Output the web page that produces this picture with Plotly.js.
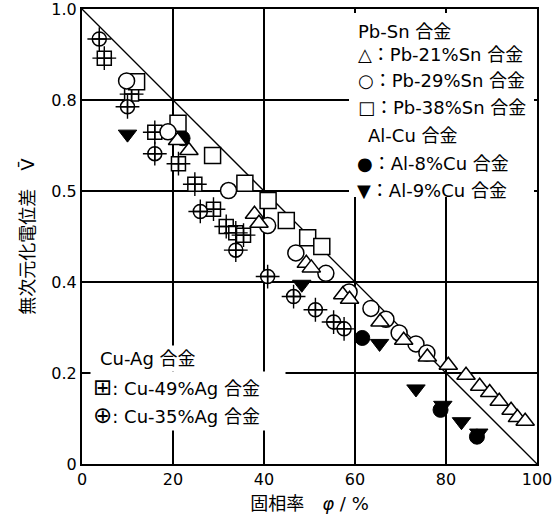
<!DOCTYPE html>
<html>
<head>
<meta charset="utf-8">
<script src="https://cdn.plot.ly/plotly-3.0.1.min.js"></script>
<style>html,body{margin:0;padding:0;background:#fff;}#chart{width:552px;height:515px;}</style>
</head>
<body>
<div id="chart"></div>
<script>
// ---- data (solid fraction phi %, dimensionless potential difference V) ----
const idealX = [0, 100];
const idealY = [1, 0];

const pb21X = [21.0, 23.5, 37.9, 38.9, 49.3, 50.4, 57.3, 58.8, 65.5, 70.7, 75.9, 80.5, 84.4, 87.4, 89.6, 91.7, 94.3, 95.7, 97.4];
const pb21Y = [0.711, 0.689, 0.549, 0.529, 0.441, 0.431, 0.372, 0.362, 0.312, 0.272, 0.235, 0.217, 0.195, 0.171, 0.157, 0.138, 0.118, 0.102, 0.094];

const pb29X = [9.8, 18.9, 32.2, 40.8, 47.0, 53.6, 58.7, 63.5, 66.8, 69.7, 73.4, 75.8];
const pb29Y = [0.842, 0.730, 0.601, 0.524, 0.464, 0.419, 0.378, 0.342, 0.318, 0.288, 0.264, 0.244];

const pb38X = [12.0, 21.1, 28.7, 35.8, 40.9, 44.9, 49.6, 52.7];
const pb38Y = [0.840, 0.749, 0.678, 0.617, 0.579, 0.535, 0.497, 0.478];

const al8X = [22.1, 61.6, 78.8, 86.8];
const al8Y = [0.716, 0.277, 0.119, 0.060];

const al9X = [10.0, 48.3, 65.4, 73.4, 79.3, 83.4, 87.2];
const al9Y = [0.725, 0.395, 0.265, 0.165, 0.129, 0.093, 0.068];

const cu49X = [4.9, 10.9, 16.0, 21.2, 24.8, 28.9, 31.7, 33.8, 35.5];
const cu49Y = [0.892, 0.813, 0.729, 0.660, 0.615, 0.560, 0.522, 0.508, 0.503];

const cu35X = [3.8, 10.0, 16.0, 26.0, 33.8, 40.8, 46.5, 51.3, 55.3, 57.6];
const cu35Y = [0.934, 0.785, 0.682, 0.555, 0.470, 0.412, 0.368, 0.339, 0.312, 0.297];

const xTickVals = [0, 20, 40, 60, 80, 100];
const xTickText = ['0', '20', '40', '60', '80', '100'];
const yTickVals = [0, 0.2, 0.4, 0.6, 0.8, 1.0];
const yTickText = ['0', '0.2', '0.4', '0.5', '0.8', '1.0'];

const legendPbSn = ['Pb-Sn 合金', '△：Pb-21%Sn 合金', '○：Pb-29%Sn 合金', '□：Pb-38%Sn 合金'];
const legendAlCu = ['Al-Cu 合金', '●：Al-8%Cu 合金', '▼：Al-9%Cu 合金'];
const legendCuAg = ['Cu-Ag 合金', '<span style="font-size:23px">⊞</span>: Cu-49%Ag 合金', '<span style="font-size:23px">⊕</span>: Cu-35%Ag 合金'];

// ---- styling ----
const FONT = 'DejaVu Sans, Noto Sans CJK JP, sans-serif';
const W = 552, H = 515;
const M = {l: 82, r: 15, t: 9, b: 51};
const PW = W - M.l - M.r, PH = H - M.t - M.b;
const px = x => (x - M.l) / PW;          // pixel -> paper
const py = y => (H - M.b - y) / PH;

function openMarker(sym, size) {
  return {symbol: sym, size: size, color: '#fff', line: {color: '#000', width: 1.5}};
}
function filledMarker(sym, size) {
  return {symbol: sym, size: size, color: '#000', line: {color: '#000', width: 1}};
}
const armMarker = {symbol: 'cross-thin-open', size: 17, color: '#000', line: {color: '#000', width: 1.4}};

const traces = [
  {x: idealX, y: idealY, mode: 'lines', line: {color: '#000', width: 1.3}, hoverinfo: 'skip'},
  {x: al8X, y: al8Y, mode: 'markers', marker: filledMarker('circle', 15)},
  {x: al9X, y: al9Y, mode: 'markers', marker: filledMarker('triangle-down', 16)},
  {x: cu49X, y: cu49Y, mode: 'markers', marker: openMarker('square-cross', 14)},
  {x: cu49X, y: cu49Y, mode: 'markers', marker: armMarker},
  {x: cu35X, y: cu35Y, mode: 'markers', marker: openMarker('circle-cross', 14)},
  {x: cu35X, y: cu35Y, mode: 'markers', marker: armMarker},
  {x: pb38X, y: pb38Y, mode: 'markers', marker: openMarker('square', 16)},
  {x: pb29X, y: pb29Y, mode: 'markers', marker: openMarker('circle', 16)},
  {x: pb21X, y: pb21Y, mode: 'markers', marker: openMarker('triangle-up', 16)}
];

const annotations = [];
function addRow(text, xpx, ypx, opts) {
  annotations.push(Object.assign({
    text: text, xref: 'paper', yref: 'paper', x: px(xpx), y: py(ypx),
    xanchor: 'left', yanchor: 'middle', showarrow: false, align: 'left',
    font: {family: FONT, size: 18, color: '#000'}
  }, opts || {}));
}
// upper-right legend
const urY = [31.7, 55, 80, 107];
legendPbSn.forEach((t, i) => addRow(t, 356, urY[i]));
const alY = [135, 163, 190];
legendAlCu.forEach((t, i) => addRow(t, i === 0 ? 366 : 355, alY[i]));
// lower-left legend (white boxes interrupt the grid)
const llY = [359, 387, 415];
legendCuAg.forEach((t, i) => addRow(t, i === 0 ? 97 : 90, llY[i],
  {bgcolor: '#fff', borderpad: 2, width: i === 0 ? 100 : 190}));

const layout = {
  width: W, height: H, margin: M,
  paper_bgcolor: '#fff', plot_bgcolor: '#fff',
  showlegend: false,
  font: {family: FONT, size: 16, color: '#000'},
  xaxis: {
    range: [0, 100], tickvals: xTickVals, ticktext: xTickText, ticklabeloverflow: 'allow',
    showgrid: true, gridcolor: '#000', gridwidth: 1.2, zeroline: false,
    showline: true, linecolor: '#000', linewidth: 2, mirror: true,
    ticks: '', tickfont: {family: FONT, size: 16, color: '#000'},
    title: {text: '固相率　<i>φ</i> / %', font: {family: FONT, size: 18, color: '#000'}, standoff: 9}
  },
  yaxis: {
    range: [0, 1], tickvals: yTickVals, ticktext: yTickText, ticklabeloverflow: 'allow',
    showgrid: true, gridcolor: '#000', gridwidth: 1.2, zeroline: false,
    showline: true, linecolor: '#000', linewidth: 2, mirror: true,
    ticks: '', tickfont: {family: FONT, size: 16, color: '#000'},
    title: {text: '無次元化電位差　V̄', font: {family: FONT, size: 18, color: '#000'}, standoff: 12}
  },
  shapes: [
    {type: 'rect', xref: 'paper', yref: 'paper', x0: px(349), x1: px(534), y0: py(197), y1: py(13),
     fillcolor: '#fff', line: {width: 0}, layer: 'above'}
  ],
  annotations: annotations
};

Plotly.newPlot('chart', traces, layout, {staticPlot: true, displayModeBar: false});
</script>
</body>
</html>
